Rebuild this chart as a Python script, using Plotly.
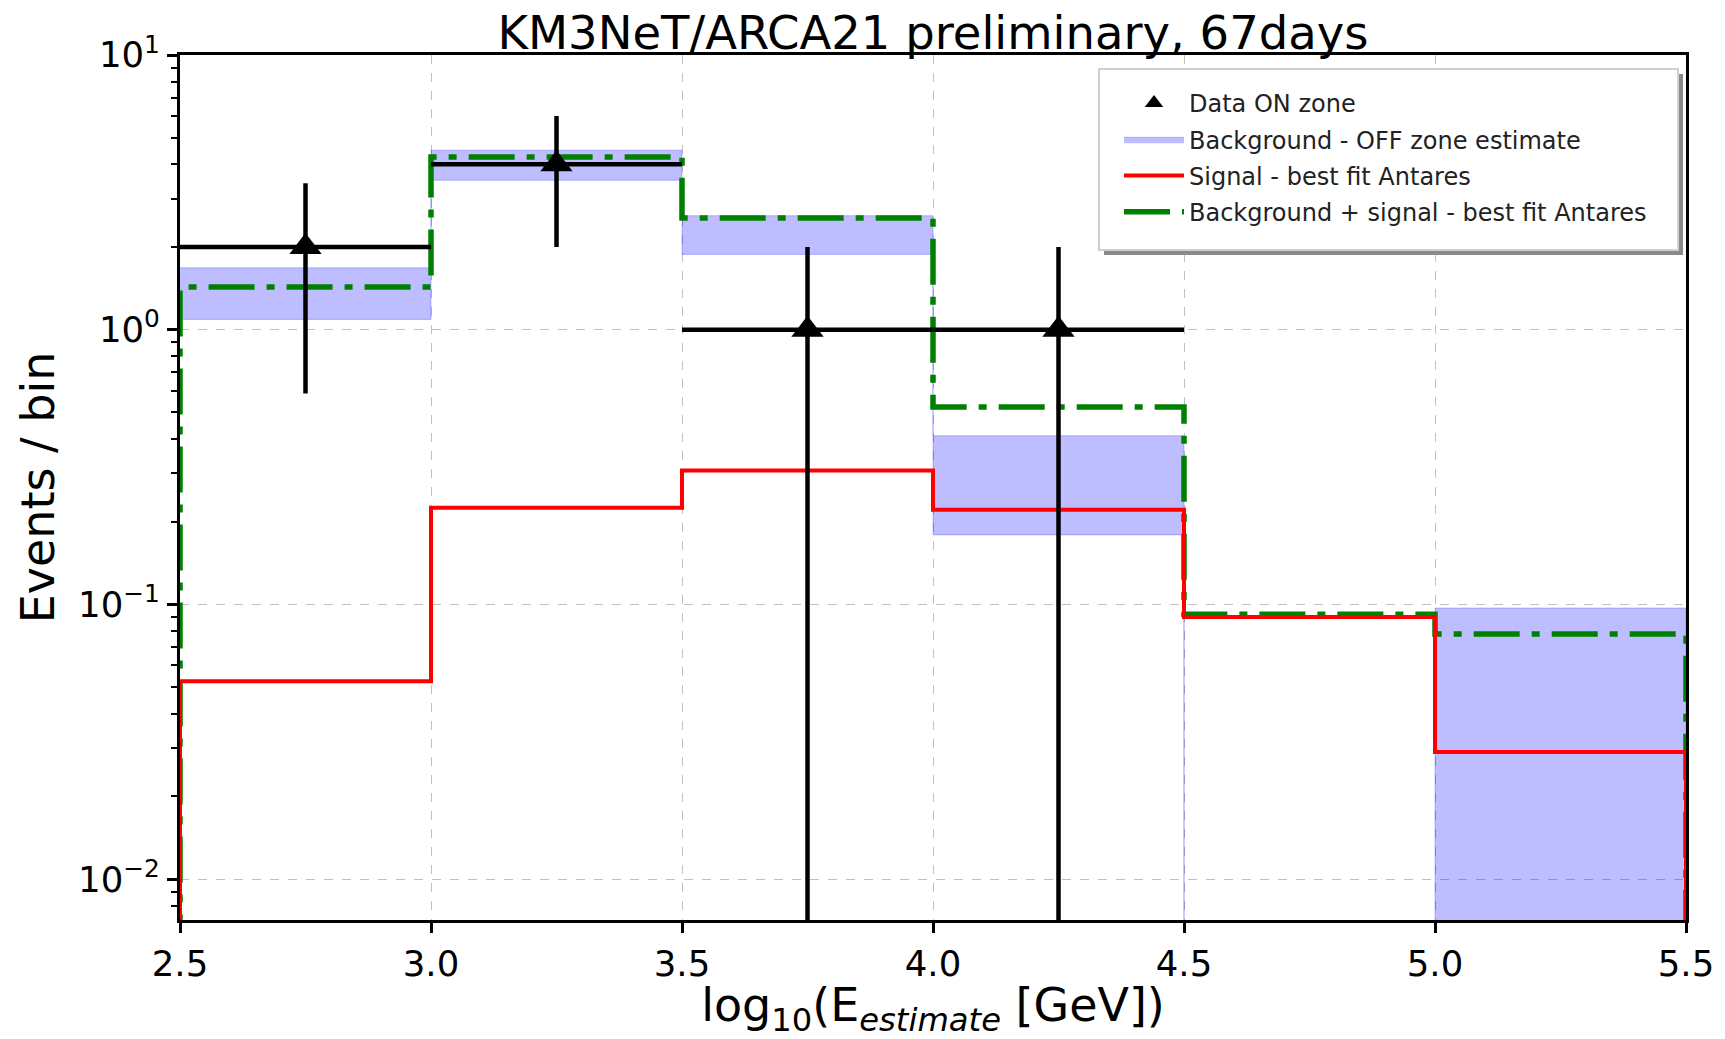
import plotly.graph_objects as go

# ---------------- data ----------------
EDGES = [2.5, 3.0, 3.5, 4.0, 4.5, 5.0, 5.5]
BKG_LOW = [1.09, 3.50, 1.88, 0.179, 0.0, 0.0]
BKG_HIGH = [1.68, 4.50, 2.60, 0.411, 0.0, 0.097]
SIGNAL = [0.0525, 0.225, 0.307, 0.221, 0.090, 0.029]
BKG_PLUS_SIGNAL = [1.43, 4.25, 2.55, 0.523, 0.092, 0.078]
DATA_X = [2.75, 3.25, 3.75, 4.25]
DATA_Y = [2, 4, 1, 1]
DATA_YERR = [1.414, 2.0, 1.0, 1.0]
DATA_XERR = [0.25, 0.25, 0.25, 0.25]
X_TICKS = [2.5, 3.0, 3.5, 4.0, 4.5, 5.0, 5.5]
Y_TICKS = [0.01, 0.1, 1, 10]
Y_TICK_TEXT = ["10<sup>\u22122</sup>", "10<sup>\u22121</sup>", "10<sup>0</sup>", "10<sup>1</sup>"]

ZERO_ON_LOG = 1e-4  # stands in for 0 on the log axis (below visible range)
FONT = "DejaVu Sans"

# figure geometry (pixels); page body has an 8px margin
PAGE_OFF = 8
W, H = 1725 - PAGE_OFF, 1039 - PAGE_OFF
ML, MR, MT, MB = 180 - PAGE_OFF, 39, 55 - PAGE_OFF, 119
PW, PH = W - ML - MR, H - MT - MB


def px2paper(px, py):
    """page pixel -> paper coords"""
    fx, fy = px - PAGE_OFF, py - PAGE_OFF
    return (fx - ML) / PW, (H - MB - fy) / PH


def nz(v):
    return v if v > 0 else ZERO_ON_LOG


def step_xy(edges, vals):
    xs = [edges[0]] + list(edges) + [edges[-1]]
    ys = [ZERO_ON_LOG] + [nz(v) for v in vals] + [nz(vals[-1]), ZERO_ON_LOG]
    return xs, ys


# band polygon
bx, by = [], []
for i in range(len(BKG_HIGH)):
    bx += [EDGES[i], EDGES[i + 1]]
    by += [nz(BKG_HIGH[i]), nz(BKG_HIGH[i])]
for i in reversed(range(len(BKG_LOW))):
    bx += [EDGES[i + 1], EDGES[i]]
    by += [nz(BKG_LOW[i]), nz(BKG_LOW[i])]

fig = go.Figure()

fig.add_trace(go.Scatter(
    x=bx, y=by, mode="lines", fill="toself",
    fillcolor="rgba(0,0,255,0.26)", line=dict(color="rgba(0,0,255,0.22)", width=1),
    name="Background - OFF zone estimate", legendrank=2, legendgroup="b",
))

gx, gy = step_xy(EDGES, BKG_PLUS_SIGNAL)
fig.add_trace(go.Scatter(
    x=gx, y=gy, mode="lines", line=dict(color="green", width=5.5, shape="hv", dash="46px,12px,8px,12px"),
    name="Background + signal - best fit Antares", legendrank=4, legendgroup="d",
))

sx, sy = step_xy(EDGES, SIGNAL)
fig.add_trace(go.Scatter(
    x=sx, y=sy, mode="lines", line=dict(color="red", width=4, shape="hv"),
    name="Signal - best fit Antares", legendrank=3, legendgroup="c",
))

fig.add_trace(go.Scatter(
    x=DATA_X, y=DATA_Y, mode="markers",
    marker=dict(symbol="triangle-up", size=28, color="black"),
    error_y=dict(type="data", array=DATA_YERR, arrayminus=DATA_YERR, thickness=4.5, width=0, color="black"),
    error_x=dict(type="data", array=DATA_XERR, arrayminus=DATA_XERR, thickness=4.5, width=0, color="black"),
    name="Data ON zone", legendrank=1, legendgroup="a",
))

minor_vals = [m * 10 ** k for k in range(-3, 1) for m in range(2, 10)]

# legend frame + shadow (drawn as shapes, legend itself transparent)
bx0, by0 = px2paper(1099, 69)
bx1, by1 = px2paper(1678, 250)
sdx, sdy = 5 / PW, 5 / PH
shapes = [
    dict(type="rect", xref="paper", yref="paper", x0=bx0 + sdx, x1=bx1 + sdx, y0=by0 - sdy, y1=by1 - sdy,
         fillcolor="#8a8a8a", line=dict(width=0), layer="above"),
    dict(type="rect", xref="paper", yref="paper", x0=bx0, x1=bx1, y0=by0, y1=by1,
         fillcolor="white", line=dict(color="#d0d0d0", width=2), layer="above"),
]
lgx, lgy = px2paper(1119, 81)

fig.update_layout(
    width=W, height=H,
    margin=dict(l=ML, r=MR, t=MT, b=MB),
    paper_bgcolor="white", plot_bgcolor="white",
    font=dict(family=FONT, color="black", size=35.5),
    title=dict(text="KM3NeT/ARCA21 preliminary, 67days", font=dict(size=46.5, family=FONT, color="black"),
               x=0.5, xref="paper", xanchor="center", y=1 - 25 / H, yref="container", yanchor="middle"),
    showlegend=True,
    shapes=shapes,
    legend=dict(
        x=lgx, y=lgy, xanchor="left", yanchor="top",
        bgcolor="rgba(0,0,0,0)", borderwidth=0,
        font=dict(size=24, family=FONT, color="#222222"),
        itemwidth=60, tracegroupgap=2, traceorder="grouped",
    ),
    xaxis=dict(
        range=[2.5, 5.5], tickvals=X_TICKS, tickformat=".1f", automargin=False,
        showline=True, linecolor="black", linewidth=3, mirror=True,
        ticks="outside", ticklen=10, tickwidth=2.5, tickcolor="black",
        showgrid=True, gridcolor="#c0c0c0", gridwidth=1, griddash="dash",
        zeroline=False,
        title=dict(text="log<sub>10</sub>(E<sub><i>estimate</i></sub> [GeV])", font=dict(size=46), standoff=12),
    ),
    yaxis=dict(
        type="log", range=[-2.149, 1.0], tickvals=Y_TICKS, ticktext=Y_TICK_TEXT, automargin=False,
        showline=True, linecolor="black", linewidth=3, mirror=True,
        ticks="outside", ticklen=10, tickwidth=2.5, tickcolor="black",
        showgrid=True, gridcolor="#c0c0c0", gridwidth=1, griddash="dash",
        zeroline=False,
        minor=dict(tickvals=minor_vals, ticks="outside", ticklen=6, tickwidth=2, tickcolor="black", showgrid=False),
        title=dict(text="Events / bin", font=dict(size=46), standoff=9),
    ),
)

fig.write_html("out.html")
